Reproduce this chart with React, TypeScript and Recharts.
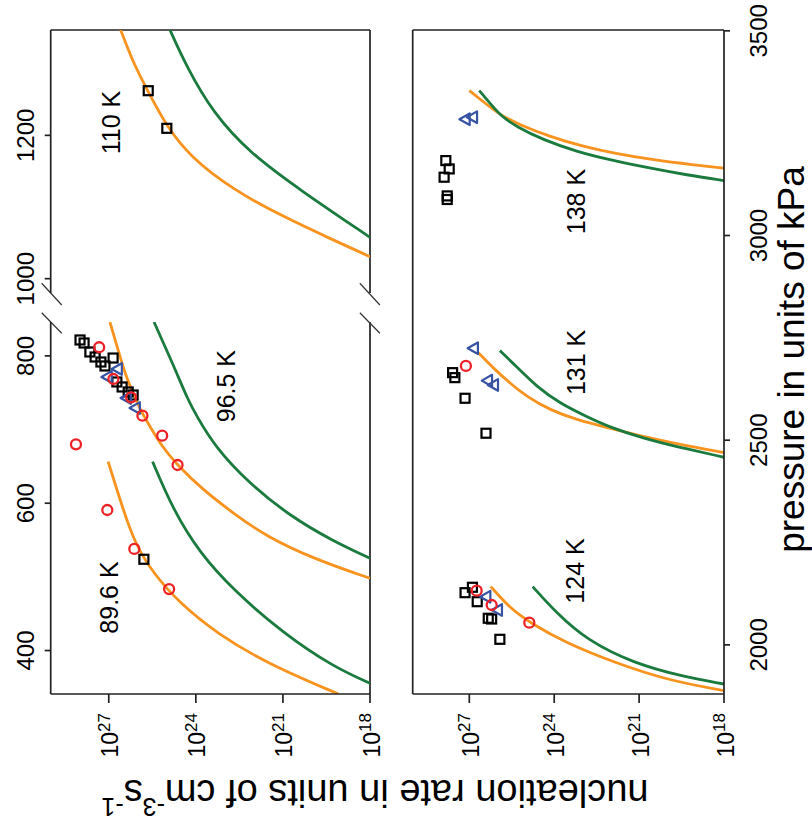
import React from 'react';
import { ComposedChart, Line, Scatter, XAxis, YAxis, ReferenceLine, ReferenceDot, Label } from 'recharts';

// ---- data: pressure (kPa) and log10 of nucleation rate (cm^-3 s^-1) ----
// 89.6 K
const P_896_OR = [341, 382.7, 423.4, 464.1, 504.9, 545.6, 590.8, 656.4];
const R_896_OR = [19.09, 21.56, 23.28, 24.55, 25.47, 26.1, 26.5, 27.02];
const P_896_GR = [355.5, 378.1, 423.4, 482.2, 532.0, 590.8, 656.4];
const R_896_GR = [18.0, 19.27, 20.99, 22.71, 23.86, 24.78, 25.49];
// 96.5 K
const P_965_OR = [498.1, 522.9, 554.5, 586.3, 618.0, 651.9, 679.0, 702.1, 726.6, 767.3, 808.0, 846];
const R_965_OR = [18.0, 19.84, 21.56, 22.71, 23.75, 24.65, 25.2, 25.55, 25.92, 26.37, 26.68, 26.96];
const P_965_GR = [525.2, 550.1, 581.7, 627.0, 676.7, 717.5, 740.1, 785.3, 846];
const R_965_GR = [18.0, 19.34, 20.72, 22.17, 23.34, 23.96, 24.27, 24.75, 25.44];
// 110 K
const P_110_OR = [1030.7, 1054.0, 1086.5, 1123.7, 1170.2, 1212.1, 1260.8, 1300.5, 1347];
const R_110_OR = [18.0, 19.27, 20.99, 22.71, 24.2, 25.0, 25.64, 26.15, 26.59];
const P_110_GR = [1057.7, 1123.7, 1175.0, 1230.8, 1295.8, 1347];
const R_110_GR = [18.0, 20.41, 22.13, 23.4, 24.32, 24.89];
// 124 K
const P_124_OR = [1888.1, 1914.2, 1955.0, 2003.9, 2054.2, 2089.4, 2142.2];
const R_124_OR = [18.0, 20.02, 21.79, 23.56, 24.86, 25.56, 26.24];
const P_124_GR = [1904.4, 1922.3, 1955.0, 2011.9, 2077.2, 2142.2];
const R_124_GR = [18.0, 19.44, 21.2, 22.85, 23.91, 24.76];
// 131 K
const P_131_OR = [2469.8, 2490.8, 2508.6, 2529.2, 2549.4, 2573.9, 2606.4, 2639.1, 2675.8, 2713.9];
const R_131_OR = [18.0, 19.67, 20.85, 22.03, 23.2, 24.15, 24.97, 25.56, 26.15, 26.68];
const P_131_GR = [2458.3, 2484.2, 2504.7, 2531.6, 2557.5, 2590.2, 2630.8, 2679.7, 2718.8];
const R_131_GR = [18.0, 19.67, 20.85, 22.03, 22.85, 23.8, 24.62, 25.33, 25.92];
// 138 K
const P_138_OR = [3164.4, 3172.5, 3184.7, 3199.3, 3217.2, 3241.6, 3270.2, 3294.7, 3327.1, 3354];
const R_138_OR = [18.0, 19.08, 20.5, 21.79, 22.97, 24.15, 25.21, 25.92, 26.51, 27.0];
const P_138_GR = [3134.1, 3148.0, 3164.4, 3184.7, 3204.9, 3233.5, 3266.0, 3290.5, 3323.2, 3354];
const R_138_GR = [18.0, 19.32, 20.61, 22.03, 23.2, 24.39, 25.33, 25.86, 26.27, 26.65];

// measured points, low-pressure panel
const P_LO_SQ = [821.6, 817.5, 805.3, 798.5, 791.7, 786.3, 797.1, 764.6, 757.8, 751.0, 746.9, 523.9];
const R_LO_SQ = [27.99, 27.85, 27.65, 27.47, 27.27, 27.13, 26.85, 26.72, 26.54, 26.33, 26.16, 25.79];
const P_LO_TRI = [782.2, 771.4, 742.8, 729.3];
const R_LO_TRI = [26.68, 27.03, 26.37, 26.06];
const P_LO_CIR = [811.7, 768.6, 743.8, 718.8, 691.7, 651.9, 680.0, 590.8, 537.9, 483.5];
const R_LO_CIR = [27.33, 26.84, 26.23, 25.84, 25.16, 24.63, 28.13, 27.05, 26.12, 24.92];
const P_UP_SQ = [1262.3, 1209.8];
const R_UP_SQ = [25.64, 25.0];
// measured points, high-pressure panel
const P_HI_SQ = [2127.5, 2140.7, 2105.5, 2065.0, 2063.2, 2013.6, 2665.0, 2652.8, 2602.4, 2517.0, 3183.0, 3162.7, 3142.4, 3096.7, 3088.0];
const R_HI_SQ = [27.15, 26.89, 26.72, 26.33, 26.21, 25.92, 27.59, 27.51, 27.15, 26.41, 27.83, 27.71, 27.89, 27.78, 27.78];
const P_HI_CIR = [2132.4, 2097.4, 2054.2, 2681.4];
const R_HI_CIR = [26.74, 26.21, 24.88, 27.12];
const P_HI_TRI = [2117.7, 2085.2, 2724.6, 2645.5, 2635.0, 3284.0, 3289.0];
const R_HI_TRI = [26.39, 25.98, 26.83, 26.33, 26.12, 27.12, 26.86];

// axes
const RATE_TICKS = [18, 21, 24, 27];
const P_TICKS_LO = [400, 600, 800];
const P_TICKS_UP = [1000, 1200];
const P_TICKS_HI = [2000, 2500, 3000, 3500];
const DOMAIN_LO = [341, 846];
const DOMAIN_UP = [980, 1347];
const DOMAIN_HI = [1880, 3502];
const DOMAIN_R = [18, 29];

// temperature labels [pressure, log rate, text]
const LABELS_LO: [number, number, string][] = [[472, 26.98, '89.6 K'], [759, 22.96, '96.5 K']];
const LABELS_UP: [number, number, string][] = [[1218, 26.92, '110 K']];
const LABELS_HI: [number, number, string][] = [[3083, 23.23, '138 K'], [2690, 23.23, '131 K'], [2180.5, 23.26, '124 K']];

// axis-break marks [p1, r1, p2, r2]
const BREAKS: [number, number, number, number][] = [
  [898.6, 29.31, 869.1, 28.62],
  [858.6, 29.31, 830.7, 28.62],
  [898.6, 18.35, 869.1, 17.66],
  [858.6, 18.35, 830.7, 17.66],
];

const zip = (ps: number[], rs: number[]) => ps.map((p, i) => ({ p, r: rs[i] }));

const FONT = '"Liberation Sans", Arial, Helvetica, sans-serif';
const ORANGE = '#F7931E';
const GREEN = '#1B7A3E';
const RED = '#EC2227';
const BLUE = '#3853A4';
const FRAME = '#222';
const LW = 2.8;
const FW = 1.7;

const Square = (props: any) => {
  const { cx, cy } = props;
  return <rect x={cx - 4.5} y={cy - 4.5} width={9} height={9} fill="none" stroke="#000" strokeWidth={2.2} />;
};
const Circ = (props: any) => {
  const { cx, cy } = props;
  return <circle cx={cx} cy={cy} r={5} fill="none" stroke={RED} strokeWidth={2.3} />;
};
const Tri = (props: any) => {
  const { cx, cy } = props;
  return (
    <polygon
      points={`${cx},${cy - 6.5} ${cx - 5.8},${cy + 3.8} ${cx + 5.8},${cy + 3.8}`}
      fill="none"
      stroke={BLUE}
      strokeWidth={2.2}
      strokeLinejoin="round"
    />
  );
};

const RateTick = (props: any) => {
  const { x, y, payload } = props;
  return (
    <text x={x} y={y + 9.5} textAnchor="end" fontFamily={FONT} fill="#000">
      <tspan fontSize={23}>10</tspan>
      <tspan fontSize={17} dy={-8.5}>{payload.value}</tspan>
    </text>
  );
};
const PTick = (props: any) => {
  const { x, y, payload } = props;
  return (
    <text x={x} y={y} textAnchor="middle" fontFamily={FONT} fontSize={24} fill="#000">
      {payload.value}
    </text>
  );
};

const curve = (key: string, ps: number[], rs: number[], color: string) => (
  <Line
    key={key}
    data={zip(ps, rs)}
    dataKey="r"
    type="basis"
    stroke={color}
    strokeWidth={LW}
    dot={false}
    activeDot={false}
    isAnimationActive={false}
  />
);

const tempLabel = (l: [number, number, string]) => (
  <ReferenceDot
    key={l[2]}
    x={l[0]}
    y={l[1]}
    r={0}
    fill="none"
    stroke="none"
    label={{ value: l[2], position: 'center', fontSize: 25, fill: '#000', fontFamily: FONT }}
  />
);

const yAxisCommon = {
  type: 'number' as const,
  dataKey: 'r',
  domain: DOMAIN_R,
  allowDataOverflow: true,
  ticks: RATE_TICKS,
  interval: 0 as const,
};

const abs: React.CSSProperties = { position: 'absolute', left: 0, top: 0 };

export default function App() {
  return (
    <div style={{ position: 'absolute', left: 0, top: 0, width: 812, height: 833, overflow: 'hidden', background: '#fff' }}>
      <div
        style={{
          position: 'absolute',
          left: 0,
          top: 0,
          width: 833,
          height: 812,
          transformOrigin: '0 0',
          transform: 'translateY(833px) rotate(-90deg)',
        }}
      >
        {/* low-pressure panel, lower section */}
        <div style={abs}>
          <ComposedChart width={833} height={812} margin={{ top: 20.7, right: 322, bottom: 442, left: 79 }}>
            <XAxis
              type="number"
              dataKey="p"
              orientation="top"
              domain={DOMAIN_LO}
              allowDataOverflow
              ticks={P_TICKS_LO}
              interval={0}
              height={30}
              tickSize={6}
              tickMargin={11}
              tick={<PTick />}
              axisLine={{ stroke: FRAME, strokeWidth: FW }}
              tickLine={{ stroke: FRAME, strokeWidth: FW }}
            />
            <YAxis
              {...yAxisCommon}
              width={60}
              tickSize={9}
              tickMargin={10}
              tick={<RateTick />}
              axisLine={{ stroke: FRAME, strokeWidth: FW }}
              tickLine={{ stroke: FRAME, strokeWidth: FW }}
            />
            <ReferenceLine y={18} stroke={FRAME} strokeWidth={FW} />
            {BREAKS.map((b, i) => (
              <ReferenceLine
                key={'br' + i}
                segment={[{ x: b[0], y: b[1] }, { x: b[2], y: b[3] }]}
                ifOverflow="visible"
                stroke="#333"
                strokeWidth={1.2}
              />
            ))}
            {curve('o896', P_896_OR, R_896_OR, ORANGE)}
            {curve('g896', P_896_GR, R_896_GR, GREEN)}
            {curve('o965', P_965_OR, R_965_OR, ORANGE)}
            {curve('g965', P_965_GR, R_965_GR, GREEN)}
            <Scatter data={zip(P_LO_SQ, R_LO_SQ)} shape={Square} isAnimationActive={false} />
            <Scatter data={zip(P_LO_TRI, R_LO_TRI)} shape={Tri} isAnimationActive={false} />
            <Scatter data={zip(P_LO_CIR, R_LO_CIR)} shape={Circ} isAnimationActive={false} />
            {LABELS_LO.map(tempLabel)}
          </ComposedChart>
        </div>

        {/* low-pressure panel, upper section */}
        <div style={abs}>
          <ComposedChart width={833} height={812} margin={{ top: 20.7, right: 30, bottom: 442, left: 540 }}>
            <XAxis
              type="number"
              dataKey="p"
              orientation="top"
              domain={DOMAIN_UP}
              allowDataOverflow
              ticks={P_TICKS_UP}
              interval={0}
              height={30}
              tickSize={6}
              tickMargin={11}
              tick={<PTick />}
              axisLine={{ stroke: FRAME, strokeWidth: FW }}
              tickLine={{ stroke: FRAME, strokeWidth: FW }}
            />
            <YAxis {...yAxisCommon} hide />
            <ReferenceLine y={18} stroke={FRAME} strokeWidth={FW} />
            <ReferenceLine x={1347} stroke={FRAME} strokeWidth={FW} />
            {curve('o110', P_110_OR, R_110_OR, ORANGE)}
            {curve('g110', P_110_GR, R_110_GR, GREEN)}
            <Scatter data={zip(P_UP_SQ, R_UP_SQ)} shape={Square} isAnimationActive={false} />
            {LABELS_UP.map(tempLabel)}
          </ComposedChart>
        </div>

        {/* high-pressure panel */}
        <div style={abs}>
          <ComposedChart width={833} height={812} margin={{ top: 412.7, right: 30, bottom: 48, left: 79 }}>
            <XAxis
              type="number"
              dataKey="p"
              orientation="bottom"
              domain={DOMAIN_HI}
              allowDataOverflow
              ticks={P_TICKS_HI}
              interval={0}
              height={40}
              tickSize={6}
              tickMargin={36.7}
              tick={<PTick />}
              axisLine={{ stroke: FRAME, strokeWidth: FW }}
              tickLine={{ stroke: FRAME, strokeWidth: FW }}
            >
              <Label
                content={(props: any) => {
                  const vb = props.viewBox || { x: 139, y: 724, width: 664 };
                  return (
                    <text
                      x={vb.x + vb.width / 2 + 2.5}
                      y={vb.y + 80}
                      textAnchor="middle"
                      fontFamily={FONT}
                      fontSize={37}
                      fill="#000"
                    >
                      pressure in units of kPa
                    </text>
                  );
                }}
              />
            </XAxis>
            <YAxis
              {...yAxisCommon}
              width={60}
              tickSize={9}
              tickMargin={10}
              tick={<RateTick />}
              axisLine={{ stroke: FRAME, strokeWidth: FW }}
              tickLine={{ stroke: FRAME, strokeWidth: FW }}
            >
              <Label
                content={(props: any) => {
                  const vb = props.viewBox || { x: 79, y: 412.7 };
                  const x = vb.x - 26;
                  const y = vb.y - 37.7;
                  return (
                    <text
                      x={x}
                      y={y}
                      transform={`rotate(-90 ${x} ${y})`}
                      textAnchor="middle"
                      fontFamily={FONT}
                      fontSize={38}
                      fill="#000"
                    >
                      nucleation rate in units of cm
                      <tspan fontSize={25} dy={-18}>-3</tspan>
                      <tspan fontSize={38} dy={18}>s</tspan>
                      <tspan fontSize={25} dy={-18}>-1</tspan>
                    </text>
                  );
                }}
              />
            </YAxis>
            <ReferenceLine y={29} stroke={FRAME} strokeWidth={FW} />
            <ReferenceLine x={3502} stroke={FRAME} strokeWidth={FW} />
            {curve('o124', P_124_OR, R_124_OR, ORANGE)}
            {curve('g124', P_124_GR, R_124_GR, GREEN)}
            {curve('o131', P_131_OR, R_131_OR, ORANGE)}
            {curve('g131', P_131_GR, R_131_GR, GREEN)}
            {curve('o138', P_138_OR, R_138_OR, ORANGE)}
            {curve('g138', P_138_GR, R_138_GR, GREEN)}
            <Scatter data={zip(P_HI_SQ, R_HI_SQ)} shape={Square} isAnimationActive={false} />
            <Scatter data={zip(P_HI_TRI, R_HI_TRI)} shape={Tri} isAnimationActive={false} />
            <Scatter data={zip(P_HI_CIR, R_HI_CIR)} shape={Circ} isAnimationActive={false} />
            {LABELS_HI.map(tempLabel)}
          </ComposedChart>
        </div>
      </div>
    </div>
  );
}
